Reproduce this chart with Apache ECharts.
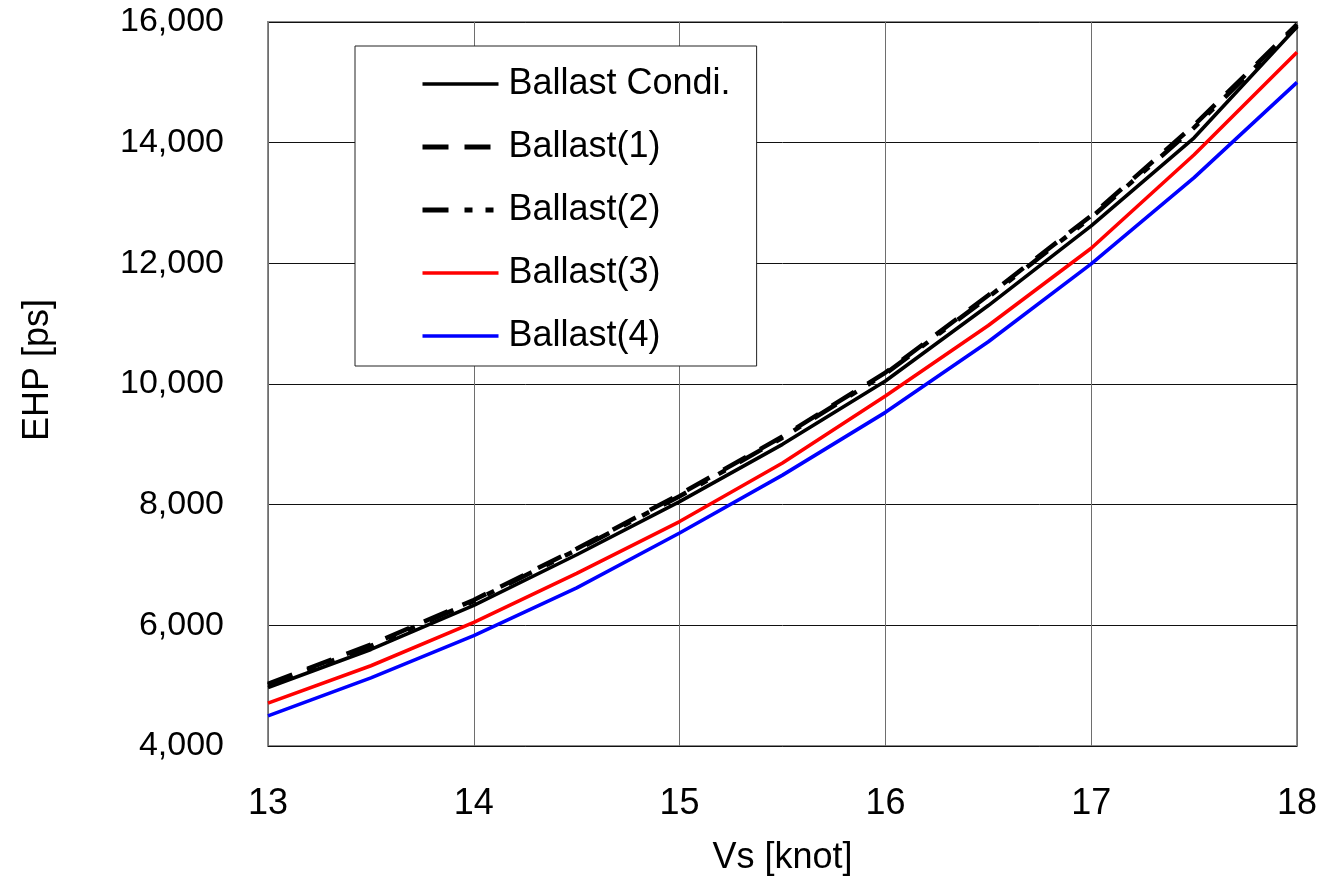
<!DOCTYPE html>
<html>
<head>
<meta charset="utf-8">
<script src="https://cdn.jsdelivr.net/npm/echarts@6/dist/echarts.min.js"></script>
<style>
  html, body { margin: 0; padding: 0; background: #fff; }
  #chart { width: 1319px; height: 880px; }
</style>
</head>
<body>
<div id="chart"></div>
<script>
// Ship speed [knot]
const speeds = [13, 13.5, 14, 14.5, 15, 15.5, 16, 16.5, 17, 17.5, 18];

// Effective horse power [ps] per loading case
const ballastCondi = [4970, 5600, 6330, 7170, 8050, 9000, 10050, 11300, 12620, 14080, 15920];
const ballast1     = [5030, 5680, 6420, 7270, 8170, 9130, 10190, 11470, 12790, 14290, 15960];
const ballast2     = [5010, 5660, 6400, 7250, 8140, 9110, 10170, 11440, 12760, 14250, 15930];
const ballast3     = [4710, 5330, 6050, 6860, 7720, 8690, 9800, 10970, 12250, 13800, 15500];
const ballast4     = [4500, 5130, 5830, 6620, 7530, 8490, 9530, 10700, 11990, 13420, 15000];

const seriesNames = ['Ballast Condi.', 'Ballast(1)', 'Ballast(2)', 'Ballast(3)', 'Ballast(4)'];

const xTicks = { min: 13, max: 18, step: 1 };
const yTicks = { min: 4000, max: 16000, step: 2000 };

const pair = (ys) => speeds.map((x, i) => [x, ys[i]]);

const styles = [
  { color: '#000000', width: 3.6, type: 'solid' },
  { color: '#000000', width: 4.5, type: [26, 16] },
  { color: '#000000', width: 4.5, type: [26, 16, 8, 13, 8, 16] },
  { color: '#ff0000', width: 3.6, type: 'solid' },
  { color: '#0000ff', width: 3.6, type: 'solid' }
];
const values = [ballastCondi, ballast1, ballast2, ballast3, ballast4];

const font = '"Liberation Sans", Arial, sans-serif';

const chart = echarts.init(document.getElementById('chart'), null, { renderer: 'canvas' });

chart.setOption({
  animation: false,
  backgroundColor: '#ffffff',
  grid: {
    left: 268, right: 22, top: 22, bottom: 134,
    outerBoundsMode: 'none',
    containLabel: false,
    show: true, borderColor: '#8a8a8a', borderWidth: 2, backgroundColor: 'transparent'
  },
  legend: {
    show: true,
    orient: 'vertical',
    left: 355, top: 46,
    padding: [20, 26, 12, 65],
    itemWidth: 76, itemHeight: 14, itemGap: 27,
    backgroundColor: '#ffffff',
    borderColor: '#222222', borderWidth: 1,
    z: 20,
    textStyle: {
      fontFamily: font,
      fontSize: 36, lineHeight: 30, color: '#000',
      padding: [0, 0, 0, 5]
    },
    data: seriesNames.map((n, i) => ({
      name: n,
      itemStyle: { opacity: 0, color: 'transparent', borderWidth: 0 },
      lineStyle: { color: styles[i].color, width: i === 1 || i === 2 ? 5 : 3.5, type: styles[i].type }
    }))
  },
  xAxis: {
    type: 'value',
    min: xTicks.min, max: xTicks.max, interval: xTicks.step,
    name: 'Vs [knot]',
    nameLocation: 'middle', nameGap: 94,
    nameTextStyle: { fontFamily: font, fontSize: 36, color: '#000' },
    axisLine: { show: false },
    axisTick: { show: false },
    axisLabel: {
      margin: 40,
      fontFamily: font, fontSize: 36, color: '#000'
    },
    splitLine: { show: true, lineStyle: { color: '#6e6e6e', width: 1 } }
  },
  yAxis: {
    type: 'value',
    min: yTicks.min, max: yTicks.max, interval: yTicks.step,
    name: 'EHP [ps]',
    nameLocation: 'middle', nameGap: 212, nameRotate: 90,
    nameTextStyle: { fontFamily: font, fontSize: 36, color: '#000', padding: [0, 0, 0, 28] },
    axisLine: { show: false },
    axisTick: { show: false },
    axisLabel: {
      margin: 44,
      fontFamily: font, fontSize: 34, color: '#000',
      formatter: (v) => v.toLocaleString('en-US')
    },
    splitLine: { show: true, lineStyle: { color: '#111111', width: 1 } }
  },
  series: seriesNames.map((n, i) => ({
    name: n,
    type: 'line',
    data: pair(values[i]),
    symbol: 'none',
    smooth: false,
    z: 10 - i,
    lineStyle: { color: styles[i].color, width: styles[i].width, type: styles[i].type },
    itemStyle: { color: styles[i].color }
  }))
});
</script>
</body>
</html>
